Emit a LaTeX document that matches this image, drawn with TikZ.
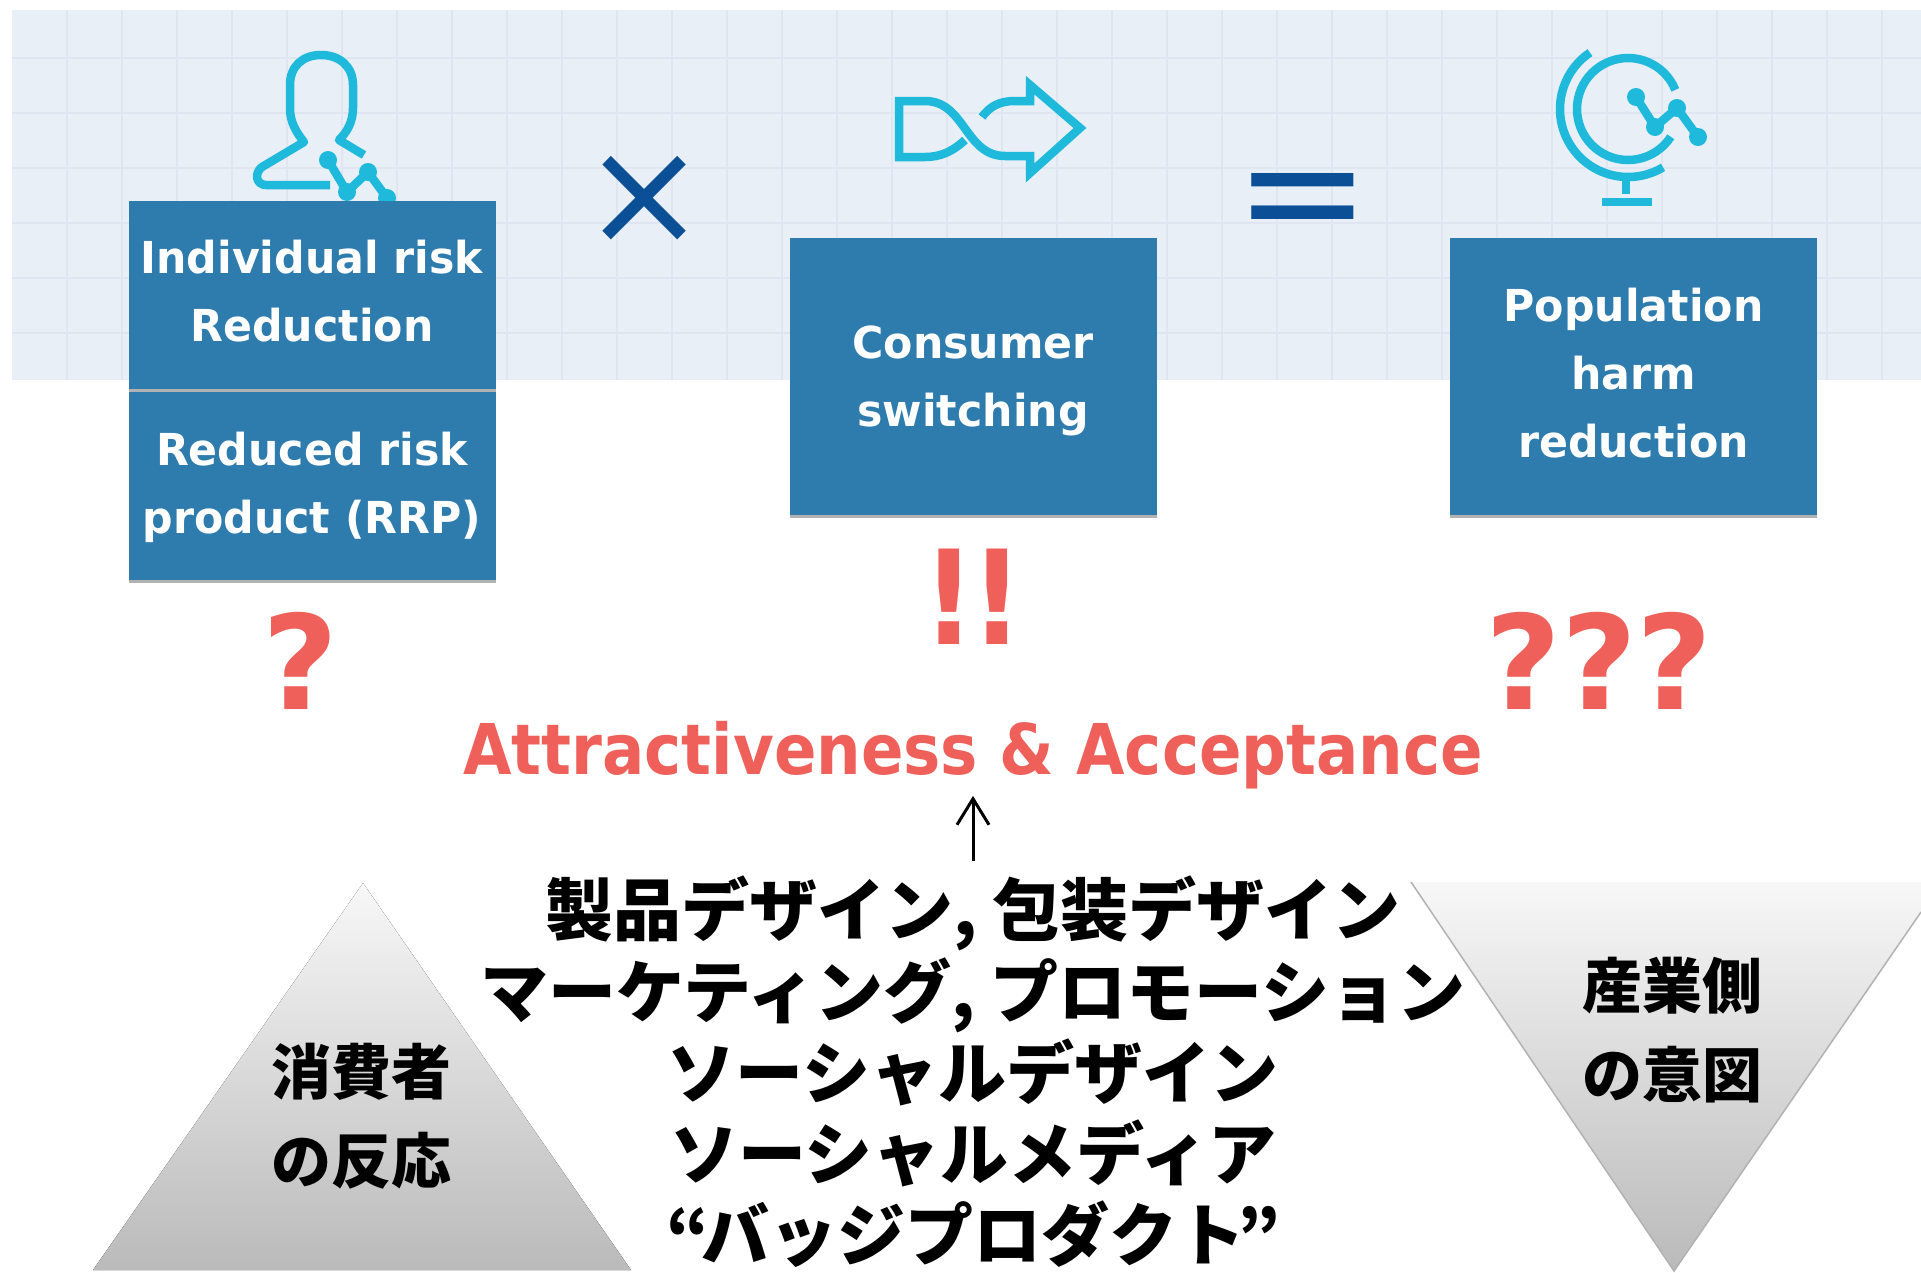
\documentclass[tikz,border=0pt]{standalone}
\usepackage{fontspec}
\setmainfont{DejaVu Sans}
\newfontfamily\jpfont{Noto Sans CJK JP}
\newfontfamily\boxfont[FakeStretch=0.97]{DejaVu Sans}
\newfontfamily\titlefont[FakeStretch=0.895]{DejaVu Sans}
\usetikzlibrary{arrows.meta,shadows}
\definecolor{panelBlue}{HTML}{E8EFF7}
\definecolor{gridBlue}{HTML}{DFE6F1}
\definecolor{boxBlue}{HTML}{2E7BAE}
\definecolor{iconCyan}{HTML}{1FBADB}
\definecolor{signBlue}{HTML}{0B4F96}
\definecolor{alertRed}{HTML}{F0605A}
\tikzset{
  factorbox/.style={fill=boxBlue,minimum width=367,outer sep=0,
    drop shadow={shadow xshift=0,shadow yshift=3,opacity=.3,fill=black}},
  factortext/.style={text=white,align=center,font=\bfseries\boxfont\fontsize{44}{68}\selectfont},
  iconline/.style={draw=iconCyan,line width=8.5,line join=round},
  signtext/.style={text=signBlue,font=\fontsize{#1}{#1}\selectfont},
  alerttext/.style={text=alertRed,font=\fontsize{131}{131}\selectfont\bfseries},
  jptext/.style={align=center,font=\bfseries\jpfont\fontsize{#1}{#1}\selectfont},
  listtext/.style={align=center,font=\bfseries\jpfont\fontsize{68}{81.3}\selectfont},
  trifill/.style={top color=white!97!black,bottom color=black!27}
}
\newcommand{\riskTrend}[4]{
  \draw[iconline] #1 -- #2 -- #3 -- #4;
  \foreach \pt in {#1,#2,#3,#4} \fill[iconCyan] \pt circle (9);
}
\begin{document}
\begin{tikzpicture}[x=1pt,y=-1pt]
  \useasboundingbox (0,0) rectangle (1921,1272);
  \fill[white] (0,0) rectangle (1921,1272);

  \fill[panelBlue] (12,10) rectangle (1921,380);
  \foreach \gx in {67,122,...,1921} \draw[gridBlue,line width=2] (\gx,10) -- (\gx,380);
  \foreach \gy in {58,113,...,380} \draw[gridBlue,line width=2] (12,\gy) -- (1921,\gy);

  % person
  \draw[iconline] (330,185) -- (266,185) .. controls (256,185) and (254,173) .. (262,167)
    -- (304,142) .. controls (296,132) and (290,122) .. (290,108) -- (290,85)
    .. controls (290,66) and (303,55) .. (321,55)
    .. controls (339,55) and (353,66) .. (353,85) -- (353,108)
    .. controls (353,122) and (347,132) .. (339,140) -- (364,155);
  \riskTrend{(328,160)}{(347,192)}{(368,172)}{(387,198)};
  % switch
  \draw[iconline,line join=miter] (965,140) .. controls (952,152) and (940,157) .. (925,157)
    -- (899,157) -- (899,101) -- (925,101)
    .. controls (965,101) and (965,156) .. (1005,156) -- (1030,156) -- (1030,173)
    -- (1080,128) -- (1030,85) -- (1030,101) -- (1015,101)
    .. controls (1000,101) and (990,106) .. (982,117);
  % globe
  \draw[iconline] (1628,109) ++(-22:51) arc (-22:-327:51);
  \draw[iconline] (1628,109) ++(-124:68) arc (-124:-301:68);
  \draw[iconline] (1626,177) -- (1626,194);
  \draw[iconline] (1602,202) -- (1652,202);
  \riskTrend{(1636,97)}{(1655,127)}{(1677,108)}{(1698,137)};

  \node[factorbox,minimum height=188] (indiv) at (312,295) {};
  \node[factorbox,minimum height=188] (rrp) at (312,486) {};
  \node[factorbox,minimum height=277] (switching) at (973,376) {};
  \node[factorbox,minimum height=277] (harm) at (1633.5,376) {};
  \node[factortext] (indivtext) at (312,291) {Individual risk\\Reduction};
  \node[factortext] (rrptext) at (312,487) {Reduced risk\\product (RRP)};
  \node[factortext] (switchingtext) at (973,381) {Consumer\\switching};
  \node[factortext] (harmtext) at (1633.5,373) {Population\\harm\\reduction};

  \node[signtext=148] (times) at (644,200) {×};
  \node[signtext=163] (equals) at (1303,210) {=};

  \node[alerttext] (qone) at (300,661) {?};
  \node[alerttext] (bang) at (973,597) {\titlefont !\kern-6pt !};
  \node[alerttext] (qthree) at (1599,661) {???};
  \node[text=alertRed,font=\bfseries\titlefont\fontsize{70}{70}\selectfont,anchor=base,outer sep=0] (attract) at (973,774) {Attractiveness \& Acceptance};

  \fill[trifill] (363,883) -- (631,1270) -- (93,1270) -- cycle;
  \fill[trifill] (1411,882) -- (1921,882) -- (1921,912) -- (1674,1271) -- cycle;
  \draw[gray!60,line width=1.5] (1411,882) -- (1674,1271) -- (1921,912);
  \node[jptext=60] (consumer) at (361,1116) {消費者\\[29pt]の反応};
  \node[jptext=60] (industry) at (1672,1030) {産業側\\[29pt]の意図};

  \node[listtext,outer sep=0] (design) at (973,1072) {\lineskiplimit=-100pt 製品デザイン, 包装デザイン\\マーケティング, プロモーション\\ソーシャルデザイン\\ソーシャルメディア\\“\kern-8pt バッジプロダクト\kern-8pt ”};
  \draw[-{Straight Barb[length=26,width=32]},line width=3,shorten <=12,shorten >=4] (design.north) -- (attract.south);
\end{tikzpicture}
\end{document}
